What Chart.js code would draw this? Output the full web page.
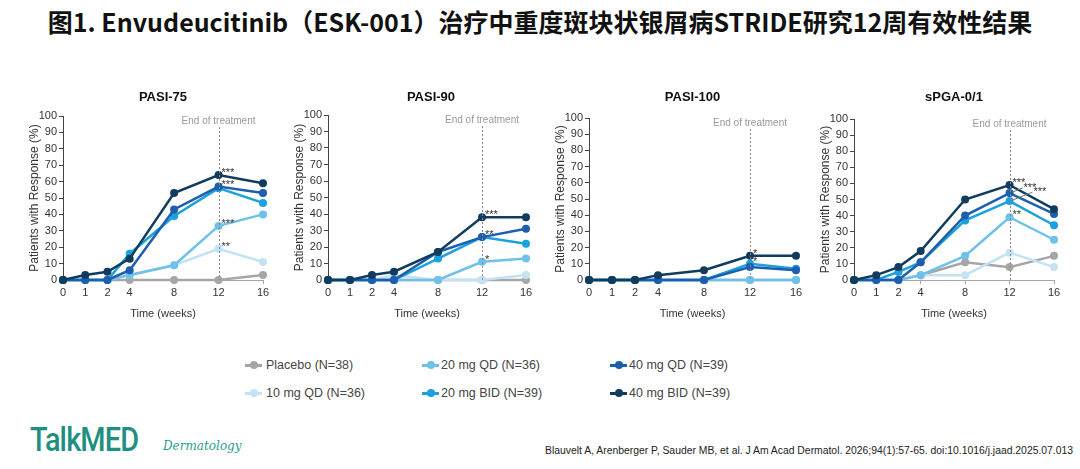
<!DOCTYPE html>
<html>
<head>
<meta charset="utf-8">
<script src="https://cdn.jsdelivr.net/npm/chart.js@4.4.1/dist/chart.umd.min.js"></script>
<style>
body{margin:0;width:1080px;height:469px;overflow:hidden;position:relative;background:#fff;font-family:"Liberation Sans",Arial,sans-serif;}
#title{position:absolute;left:0;top:3px;width:1080px;text-align:center;white-space:nowrap;font-family:"Noto Sans CJK SC",sans-serif;font-weight:700;font-size:25px;color:#111;}
.panel{position:absolute;top:85px;height:240px;}
.lg{position:absolute;height:14px;font-size:12.5px;color:#444;white-space:nowrap;line-height:14px;}
.lg i{position:absolute;top:6px;height:2.5px;width:17px;}
.lg b{position:absolute;top:3px;width:8px;height:8px;border-radius:50%;}
#logo{position:absolute;left:30px;top:419px;font-family:Roboto,sans-serif;font-weight:500;font-size:34px;color:#1f8f82;letter-spacing:-1px;transform:scaleX(0.85);transform-origin:left center;}
#derm{position:absolute;left:163px;top:439px;font-family:"DejaVu Serif",serif;font-style:italic;font-size:12px;color:#2a9d90;}
#cite{position:absolute;top:445px;right:7px;font-size:10px;color:#222;white-space:nowrap;transform-origin:right center;}
</style>
</head>
<body>
<div id="title">图1. Envudeucitinib（ESK-001）治疗中重度斑块状银屑病STRIDE研究12周有效性结果</div>
<div id="legend"></div>
<div id="logo">TalkMED</div>
<div id="derm">Dermatology</div>
<div id="cite">Blauvelt A, Arenberger P, Sauder MB, et al. J Am Acad Dermatol. 2026;94(1):57-65. doi:10.1016/j.jaad.2025.07.013</div>
<script>
// weeks on the x axis, and where each one sits (the axis is not to scale)
const WEEKS = ['0','1','2','4','8','12','16'];
const XPOS = [0,1,2,3,5,7,9];
const SERIES = ['Placebo (N=38)','10 mg QD (N=36)','20 mg QD (N=36)','20 mg BID (N=39)','40 mg QD (N=39)','40 mg BID (N=39)'];
const COLORS = ['#a6a6a6','#c3e3f5','#6fc0ea','#1ba1dd','#1d5fae','#113c5e'];

// % responders, one row per series (same order as SERIES)
const PASI75 = [
    [0,0,0,0,0,0,3],
    [0,0,0,3,9,19,11],
    [0,0,0,3,9,33,40],
    [0,0,0,16,39,56,47],
    [0,0,0,6,43,57,53],
    [0,3,5,13,53,64,59]
];
const PASI90 = [
    [0,0,0,0,0,0,0],
    [0,0,0,3,0,0,3],
    [0,0,0,0,0,11,13],
    [0,0,0,0,13,26,22],
    [0,0,0,0,17,26,31],
    [0,0,3,5,17,38,38]
];
const PASI100 = [
    [0,0,0,0,0,0,0],
    [0,0,0,0,0,0,0],
    [0,0,0,0,0,0,0],
    [0,0,0,0,0,10,7],
    [0,0,0,0,0,8,6],
    [0,0,0,3,6,15,15]
];
const SPGA = [
    [0,0,0,3,11,8,15],
    [0,0,0,3,3,17,8],
    [0,0,0,3,15,39,25],
    [0,0,5,11,37,49,34],
    [0,0,0,11,40,54,41],
    [0,3,8,18,50,59,44]
];

// significance marks at week 12 : [value, text]
const NOTES75 = [[64,'***'],[57,'***'],[33,'***'],[19,'**']];
const NOTES90 = [[38,'***'],[26,'**'],[11,'*']];
const NOTES100 = [[15,'*'],[10,'*']];
const NOTESPGA = [[59,'***'],[54,'***'],[49,'***'],[39,'**']];

const font = '"Liberation Sans", Arial, sans-serif';

// legend, 3 columns x 2 rows
const lgCols = [245, 422, 610];
const lgRows = [358, 386];
SERIES.forEach((name, i) => {
    const d = document.createElement('div');
    d.className = 'lg';
    d.style.left = lgCols[Math.floor(i/2)] + 'px';
    d.style.top = lgRows[i%2] + 'px';
    d.innerHTML = '<i style="left:0;background:' + COLORS[i] + '"></i><b style="left:4.5px;background:' + COLORS[i] + '"></b><span style="margin-left:' + (i < 2 ? 21 : 19) + 'px">' + name + '</span>';
    document.getElementById('legend').appendChild(d);
});

const overlay = {
    id: 'overlay',
    afterDatasetsDraw(chart, args, opts) {
        const ctx = chart.ctx;
        const area = chart.chartArea;
        const xs = chart.scales.x, ys = chart.scales.y;
        const x12 = xs.getPixelForValue(XPOS[WEEKS.indexOf('12')]);
        ctx.save();
        // panel title
        ctx.fillStyle = '#111';
        ctx.font = 'bold 13px ' + font;
        ctx.textAlign = 'center';
        ctx.textBaseline = 'middle';
        ctx.fillText(opts.title, (area.left + area.right)/2 + opts.tshift, 12);
        // end of treatment
        ctx.fillStyle = '#9a9a9a';
        ctx.font = '10px ' + font;
        ctx.fillText('End of treatment', x12, area.top + 5);
        ctx.strokeStyle = '#8a8a8a';
        ctx.lineWidth = 1;
        ctx.setLineDash([2,2]);
        ctx.beginPath();
        ctx.moveTo(Math.round(x12)+0.5, area.top + 11);
        ctx.lineTo(Math.round(x12)+0.5, area.bottom);
        ctx.stroke();
        ctx.setLineDash([]);
        // asterisks
        ctx.fillStyle = '#333';
        ctx.font = '11px ' + font;
        ctx.textAlign = 'left';
        opts.notes.forEach((n, k) => {
            const py = ys.getPixelForValue(n[0]);
            const off = (opts.offsets && opts.offsets[k]) || [3, -4];
            if (off[0] > 6) {
                ctx.strokeStyle = '#777';
                ctx.beginPath();
                ctx.moveTo(x12 + 3, py - 1);
                ctx.lineTo(x12 + off[0] - 1, py + off[1] + 2);
                ctx.stroke();
            }
            ctx.fillText(n[1], x12 + off[0], py + off[1] + 2);
        });
        ctx.restore();
    }
};

function makePanel(title, rows, notes, box, offsets, tshift) {
    const div = document.createElement('div');
    div.className = 'panel';
    const w = (box.x16 - box.x0) + 45 + 10;
    div.style.left = (box.x0 - 45) + 'px';
    div.style.width = w + 'px';
    const cv = document.createElement('canvas');
    cv.width = w; cv.height = 240;
    div.appendChild(cv);
    document.body.appendChild(div);

    const datasets = rows.map((vals, i) => ({
        label: SERIES[i],
        data: vals.map((v, j) => ({x: XPOS[j], y: v})),
        borderColor: COLORS[i],
        backgroundColor: COLORS[i],
        borderWidth: 2.5,
        pointRadius: 4,
        pointBorderWidth: 0,
        tension: 0,
        clip: false,
        order: rows.length - i
    }));

    return new Chart(cv, {
        type: 'line',
        data: {datasets: datasets},
        options: {
            responsive: false,
            animation: false,
            events: [],
            layout: {padding: {top: box.top - 85, right: 10, left: 0, bottom: 0}},
            plugins: {
                legend: {display: false},
                tooltip: {enabled: false},
                overlay: {title: title, notes: notes, offsets: offsets, tshift: tshift || 0}
            },
            scales: {
                x: {
                    type: 'linear',
                    min: 0, max: 9,
                    afterFit: s => { s.height = 325 - box.bottom; },
                    afterBuildTicks: s => { s.ticks = XPOS.map(v => ({value: v})); },
                    ticks: {
                        autoSkip: false,
                        maxRotation: 0,
                        padding: 2,
                        color: '#333',
                        font: {family: font, size: 11},
                        callback: v => WEEKS[XPOS.indexOf(v)]
                    },
                    grid: {drawOnChartArea: false, drawTicks: true, tickLength: 4, color: '#a6a6a6'},
                    border: {color: '#a6a6a6', width: 1},
                    title: {display: true, text: 'Time (weeks)', color: '#333', font: {family: font, size: 11}, padding: {top: 3}}
                },
                y: {
                    min: 0, max: 100,
                    afterFit: s => { s.width = 45; },
                    ticks: {stepSize: 10, autoSkip: false, padding: 2, color: '#333', font: {family: font, size: 11}},
                    grid: {drawOnChartArea: false, drawTicks: true, tickLength: 4, color: '#444'},
                    border: {color: '#444', width: 1},
                    title: {display: true, text: 'Patients with Response (%)', color: '#333', font: {family: font, size: 12}, padding: {top: 9, bottom: 0}}
                }
            }
        },
        plugins: [overlay]
    });
}

makePanel('PASI-75', PASI75, NOTES75, {x0: 63, x16: 263, top: 116, bottom: 280});
makePanel('PASI-90', PASI90, NOTES90, {x0: 328, x16: 526, top: 115, bottom: 280}, null, 4);
makePanel('PASI-100', PASI100, NOTES100, {x0: 589, x16: 796, top: 118, bottom: 280});
makePanel('sPGA-0/1', SPGA, NOTESPGA, {x0: 854, x16: 1054, top: 119, bottom: 280},
    [[3, -4], [14, -7], [24, -11], [3, -4]]);

// squeeze the citation to the width it takes in the original
const cite = document.getElementById('cite');
cite.style.transform = 'scaleX(' + (528 / cite.offsetWidth) + ')';
</script>
</body>
</html>
